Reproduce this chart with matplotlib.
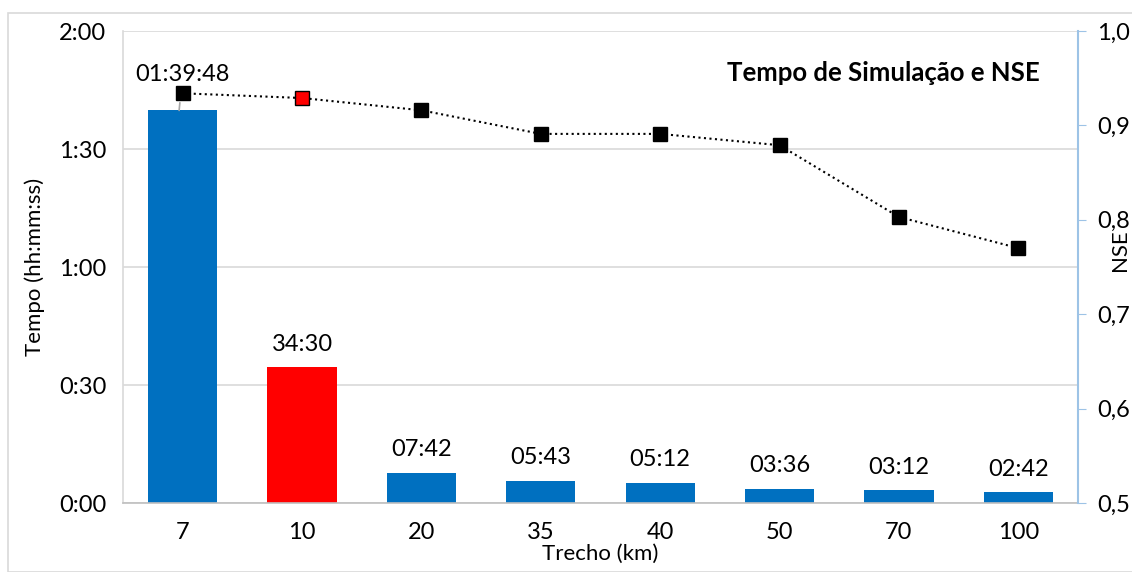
import matplotlib
matplotlib.use("Agg")
import matplotlib.pyplot as plt
from matplotlib.patches import Rectangle

plt.rcParams['font.family'] = ['Lato', 'DejaVu Sans']

categories = ['7', '10', '20', '35', '40', '50', '70', '100']
tempo_min = [99.8, 34.5, 7.7, 5.717, 5.2, 3.6, 3.2, 2.7]
tempo_labels = ['01:39:48', '34:30', '07:42', '05:43', '05:12', '03:36', '03:12', '02:42']
nse = [0.934, 0.929, 0.916, 0.891, 0.891, 0.879, 0.803, 0.770]
bar_colors = ['#0070C0', '#FF0000', '#0070C0', '#0070C0', '#0070C0', '#0070C0', '#0070C0', '#0070C0']
marker_colors = ['black', 'red', 'black', 'black', 'black', 'black', 'black', 'black']
left_ticks = [0, 30, 60, 90, 120]
left_ticklabels = ['0:00', '0:30', '1:00', '1:30', '2:00']
right_ticks = [0.5, 0.6, 0.7, 0.8, 0.9, 1.0]
right_ticklabels = ['0,5', '0,6', '0,7', '0,8', '0,9', '1,0']

W, H = 1132, 572
fig = plt.figure(figsize=(W / 100, H / 100), dpi=100)
ax = fig.add_axes([123 / W, 1 - 503 / H, (1078 - 123) / W, (503 - 31) / H])

x = list(range(len(categories)))
ax.bar(x, tempo_min, width=0.58, color=bar_colors, zorder=2)
ax.set_xlim(-0.5, len(categories) - 0.5)
ax.set_ylim(0, 120)
ax.set_yticks(left_ticks)
ax.set_yticklabels(left_ticklabels, fontsize=17)
ax.set_xticks(x)
ax.set_xticklabels(categories, fontsize=17)
ax.tick_params(axis='both', length=0, pad=12)
ax.tick_params(axis='x', pad=14)
ax.grid(axis='y', color='#D9D9D9', linewidth=1.2, zorder=0)
for s in ['top', 'right']:
    ax.spines[s].set_visible(False)
ax.spines['left'].set_color('#D9D9D9')
ax.spines['bottom'].set_color('#BFBFBF')
ax.spines['left'].set_linewidth(1.2)
ax.spines['bottom'].set_linewidth(1.2)
ax.set_ylabel('Tempo (hh:mm:ss)', fontsize=16, labelpad=10)
ax.set_xlabel('Trecho (km)', fontsize=16, labelpad=0)

for i, (v, lab) in enumerate(zip(tempo_min, tempo_labels)):
    if i == 0:
        continue
    ax.annotate(lab, (i, v), xytext=(0, 9), textcoords='offset points',
                ha='center', va='bottom', fontsize=17)

ax2 = ax.twinx()
ax2.set_ylim(0.5, 1.0)
ax2.set_yticks(right_ticks)
ax2.set_yticklabels(right_ticklabels, fontsize=17)
ax2.tick_params(axis='y', length=6, color='#9DC3E6', direction='out', pad=8)
for s in ['top', 'left', 'bottom']:
    ax2.spines[s].set_visible(False)
ax2.spines['right'].set_color('#9DC3E6')
ax2.spines['right'].set_linewidth(1.5)
fig.text(1120 / W, 1 - 250 / H, 'NSE', rotation=90, ha='center', va='center', fontsize=16)

ax2.plot(x, nse, linestyle=':', color='black', linewidth=1.5, zorder=3)
for i, (v, c) in enumerate(zip(nse, marker_colors)):
    ax2.plot(i, v, marker='s', markersize=10, markerfacecolor=c,
             markeredgecolor='black', markeredgewidth=1.0, linestyle='none', zorder=4)

# label of first bar, placed above the marker with a leader line
ax.annotate(tempo_labels[0], xy=(-0.03, tempo_min[0]), xytext=(0, 109),
            textcoords='data', ha='center', va='center', fontsize=17,
            arrowprops=dict(arrowstyle='-', color='#A6A6A6', lw=1.2,
                            shrinkA=11, shrinkB=0), zorder=5)

ax.text(0.96, 0.91, 'Tempo de Simulação e NSE', transform=ax.transAxes,
        ha='right', va='center', fontsize=18.5, fontweight='bold')

fig.patches.append(Rectangle((8 / W, 0), 1, 1 - 13 / H, transform=fig.transFigure,
                             fill=False, edgecolor='#D9D9D9', linewidth=1.2))

fig.savefig('out.png', dpi=100)
